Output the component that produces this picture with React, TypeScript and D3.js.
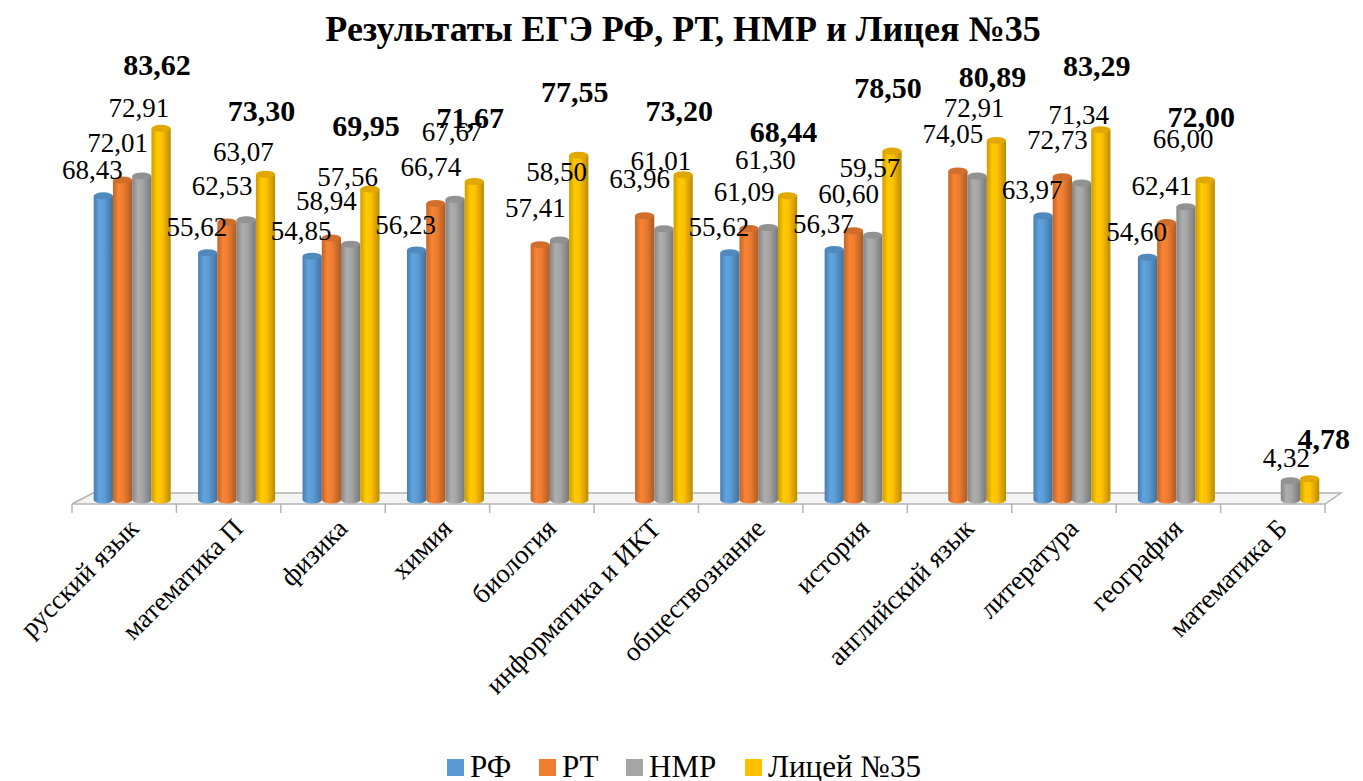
import React from 'react';
import * as d3 from 'd3';

const categories = [
  'русский язык', 'математика П', 'физика', 'химия', 'биология', 'информатика и ИКТ',
  'обществознание', 'история', 'английский язык', 'литература', 'география', 'математика Б',
];
const seriesNames = ['РФ', 'РТ', 'НМР', 'Лицей №35'];
const rf = [68.43, 55.62, 54.85, 56.23, null, null, 55.62, 56.37, null, 63.97, 54.60, null];
const rt = [72.01, 62.53, 58.94, 66.74, 57.41, 63.96, 61.09, 60.60, 74.05, 72.73, 62.41, null];
const nmr = [72.91, 63.07, 57.56, 67.67, 58.50, 61.01, 61.30, 59.57, 72.91, 71.34, 66.00, 4.32];
const lyceum = [83.62, 73.30, 69.95, 71.67, 77.55, 73.20, 68.44, 78.50, 80.89, 83.29, 72.00, 4.78];
const seriesValues = [rf, rt, nmr, lyceum];

const colors = ['#5b9bd5', '#ed7d31', '#a5a5a5', '#ffc000'];

const W = 1363;
const H = 781;

export default function App() {
  const x = d3.scaleBand<string>().domain(categories).range([72, 1325]).padding(0);
  const groupW = 77;
  const inner = d3.scaleBand<number>().domain([0, 1, 2, 3]).range([0, groupW]).padding(0);
  const y = d3.scaleLinear().domain([0, 90]).range([500, 100]);
  const ry = 3.5;
  const depthShift = 8;

  // label offsets per series (the original places them up-left of the cylinder tops)
  const labelDx = [-11, -5, -3, -4];
  const labelDy = [-26, -37, -68, -64];
  // short bars get their labels closer
  const smallDx = [-4, -4, -4, 14];
  const smallDy = [-22, -22, -23, -40];

  const fmt = (v: number) => d3.format('.2f')(v).replace('.', ',');

  const [x0, x1] = x.range();
  const floorFront = 504;
  const floorBack = 493;

  return (
    <svg width={W} height={H} style={{ position: 'absolute', left: 0, top: 0, background: '#fff' }}>
      <style>{`svg text { font-family: 'Liberation Serif', 'Times New Roman', Tinos, serif !important; }`}</style>
      <defs>
        {colors.map((c, i) => {
          const base = d3.color(c)!;
          return (
            <linearGradient key={i} id={`cyl${i}`} x1="0" x2="1" y1="0" y2="0">
              <stop offset="0%" stopColor={base.darker(0.6).formatHex()} />
              <stop offset="30%" stopColor={base.brighter(0.15).formatHex()} />
              <stop offset="55%" stopColor={c} />
              <stop offset="100%" stopColor={base.darker(0.9).formatHex()} />
            </linearGradient>
          );
        })}
      </defs>

      <text x={683} y={41} textAnchor="middle" fontFamily="Liberation Serif" fontWeight="bold" fontSize={36}>
        Результаты ЕГЭ РФ, РТ, НМР и Лицея №35
      </text>

      {/* floor */}
      <polygon
        points={`${x0},${floorFront} ${x1},${floorFront} ${x1 + 16},${floorBack} ${x0 + 21},${floorBack}`}
        fill="#f4f4f4"
        stroke="#b4b4b4"
        strokeWidth={1.5}
      />
      {d3.range(categories.length + 1).map((i) => {
        const tx = x0 + i * x.bandwidth();
        return <line key={i} x1={tx} x2={tx} y1={floorFront} y2={floorFront + 9} stroke="#b4b4b4" strokeWidth={1.5} />;
      })}

      {/* bars */}
      {categories.map((cat, ci) => {
        const gx = (x(cat) as number) + (x.bandwidth() - groupW) / 2 + depthShift;
        return seriesValues.map((vals, si) => {
          const v = vals[ci];
          if (v == null) return null;
          const bx = gx + (inner(si) as number);
          const bw = inner.bandwidth();
          const top = y(v);
          const bot = y(0);
          const rx = bw / 2;
          const d = `M${bx},${top} L${bx},${bot} A${rx},${ry} 0 0 0 ${bx + bw},${bot} L${bx + bw},${top} Z`;
          const base = d3.color(colors[si])!;
          return (
            <g key={`${ci}-${si}`}>
              <path d={d} fill={`url(#cyl${si})`} />
              <ellipse cx={bx + rx} cy={top} rx={rx} ry={ry} fill={base.darker(0.35).formatHex()} />
            </g>
          );
        });
      })}

      {/* value labels */}
      {categories.map((cat, ci) => {
        const gx = (x(cat) as number) + (x.bandwidth() - groupW) / 2 + depthShift;
        return seriesValues.map((vals, si) => {
          const v = vals[ci];
          if (v == null) return null;
          const small = v < 20;
          const cx = gx + (inner(si) as number) + inner.bandwidth() / 2 + (small ? smallDx[si] : labelDx[si]);
          const cy = y(v) + (small ? smallDy[si] : labelDy[si]);
          const bold = si === 3;
          return (
            <text
              key={`l${ci}-${si}`}
              x={cx}
              y={cy}
              dy="0.35em"
              textAnchor="middle"
              fontFamily="Liberation Serif"
              fontSize={bold ? 30 : 27}
              fontWeight={bold ? 'bold' : 'normal'}
              fill="#000"
            >
              {fmt(v)}
            </text>
          );
        });
      })}

      {/* category labels */}
      {categories.map((cat) => {
        const cx = (x(cat) as number) + x.bandwidth() / 2;
        return (
          <text
            key={cat}
            transform={`translate(${cx + 16},${530}) rotate(-45)`}
            textAnchor="end"
            fontFamily="Liberation Serif"
            fontSize={27}
            fill="#000"
          >
            {cat}
          </text>
        );
      })}

      {/* legend */}
      {seriesNames.map((name, i) => {
        const lx = [447, 539, 626, 745][i];
        return (
          <g key={name}>
            <rect x={lx} y={759} width={17} height={17} fill={colors[i]} />
            <text x={lx + 23} y={777} fontFamily="Liberation Serif" fontSize={31} fill="#000">
              {name}
            </text>
          </g>
        );
      })}
    </svg>
  );
}
